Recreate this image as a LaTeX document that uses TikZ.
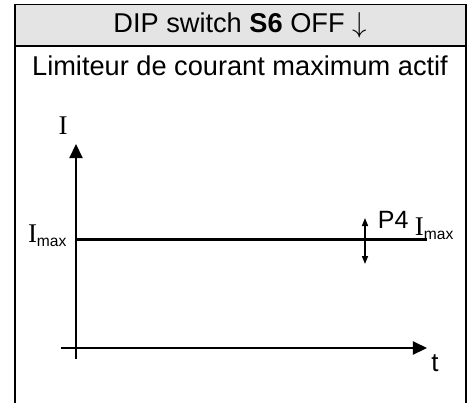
\documentclass[tikz,border=0pt]{standalone}
\usepackage{fontspec}
\setmainfont{Liberation Sans}
\newfontfamily\tnr{Liberation Serif}
\usetikzlibrary{arrows.meta, positioning}
\definecolor{cgrey}{HTML}{E4E4E4}
\tikzset{
  every picture/.style={line width=1pt},
  frame/.style={draw=black, line width=1pt},
  axis/.style={-{Triangle[length=7pt, width=6.5pt]}, line width=1.1pt},
  level/.style={line width=1.9pt},
  adjust/.style={{Triangle[length=4pt, width=3pt]}-{Triangle[length=4pt, width=3pt]}, line width=0.75pt},
  title/.style={font=\fontsize{13.6}{16}\selectfont, anchor=base, inner sep=0pt},
  sym/.style={font=\fontsize{13.5}{16}\selectfont\tnr, inner sep=0pt},
}
\newcommand{\imax}{I\raisebox{-2pt}{\normalfont\fontsize{7.8}{9}\selectfont max}}

\begin{document}
\begin{tikzpicture}[x=0.5pt, y=-0.5pt]
  \useasboundingbox (0,0) rectangle (473,403);
  % table
  \fill[cgrey] (15,4) rectangle (466,45);
  \draw[line width=0.5pt] (15,4) -- (466,4);
  \draw[frame] (15,45.5) -- (466,45.5);
  \draw[frame] (15,4) -- (15,403);
  \draw[frame] (466,4) -- (466,403);
  \node[title] (hdr) at (240,32) {DIP switch \textbf{S6} OFF $\downarrow$};
  \node[title] (sub) at (240,75) {Limiteur de courant maximum actif};
  % axes
  \coordinate (ybot) at (76,359);
  \coordinate (ytop) at (76,144);
  \coordinate (xleft) at (61,348);
  \coordinate (xright) at (427,348);
  \draw[axis] (ybot) -- (ytop);
  \draw[axis] (xleft) -- (xright);
  \node[sym, anchor=base] (ylab) at (63,134) {I};
  \node[font=\fontsize{13}{15}\selectfont, anchor=base, inner sep=0pt] (tlab) at (435,371) {t};
  % current limit
  \coordinate (lvl0) at (76,239.5);
  \coordinate (lvl1) at (427,239.5);
  \draw[level] (lvl0) -- (lvl1);
  \node[sym, anchor=base west] (imaxlab) at (27,242) {\imax};
  \coordinate (adjtop) at (365,218);
  \coordinate (adjbot) at (365,264);
  \draw[adjust] (adjtop) -- (adjbot);
  \node[font=\fontsize{12.5}{15}\selectfont, anchor=base west, inner sep=0pt] (p4) at (377,228) {P4};
  \node[sym, anchor=base west] (p4imax) at (414,235) {\imax};
\end{tikzpicture}
\end{document}
